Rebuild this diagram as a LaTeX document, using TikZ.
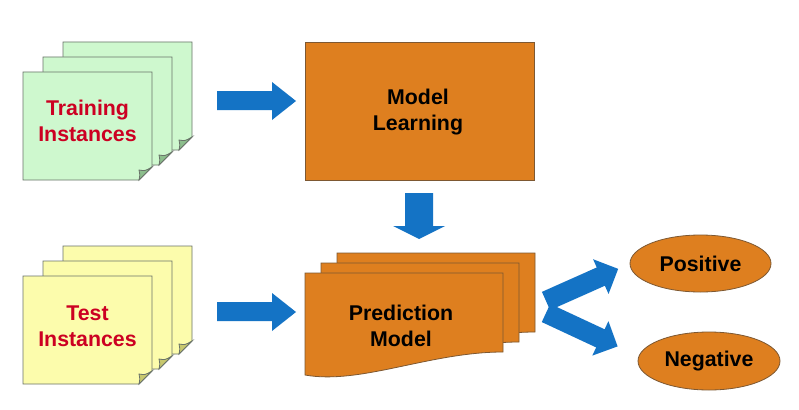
\documentclass[tikz,border=0pt]{standalone}
\usepackage{fontspec}
\setmainfont{Liberation Sans}
\usetikzlibrary{shapes.geometric}
\definecolor{orangefill}{RGB}{222,127,31}
\definecolor{orangeline}{RGB}{125,88,50}
\definecolor{greenpage}{RGB}{206,248,206}
\definecolor{greenfold}{RGB}{140,190,140}
\definecolor{yellowpage}{RGB}{252,252,172}
\definecolor{yellowfold}{RGB}{200,200,110}
\definecolor{pageline}{RGB}{105,115,105}
\definecolor{redtext}{RGB}{204,0,34}
\definecolor{arrowblue}{RGB}{20,115,197}
\tikzset{
  lbl/.style={font=\fontsize{16}{19.5}\selectfont\bfseries, align=center, inner sep=0pt},
  redlbl/.style={lbl, text=redtext},
  orangebox/.style={fill=orangefill, draw=orangeline, line width=0.6pt},
  sheetline/.style={draw=pageline, line width=0.6pt},
  blockarrow/.style={fill=arrowblue},
}
% sheet with folded corner: #1 x0, #2 y0, #3 fill, #4 fold colour
\newcommand\sheetpage[4]{%
  \path[sheetline, fill=#3] (#1,#2) -- ({#1+129},#2) -- ({#1+129},{#2+95}) -- ({#1+116},{#2+108}) -- (#1,{#2+108}) -- cycle;
  \path[sheetline, fill=#4] ({#1+129},{#2+95}) -- ({#1+116},{#2+108}) .. controls ({#1+117},{#2+103}) .. ({#1+116},{#2+98}) .. controls ({#1+122},{#2+99}) .. ({#1+129},{#2+95}) -- cycle;
}
% document sheet with wavy bottom: #1 x0, #2 y0
\newcommand\wavesheet[2]{%
  \path[orangebox] (#1,#2) -- ({#1+198},#2) -- ({#1+198},{#2+79}) .. controls ({#1+125},{#2+79}) and ({#1+55},{#2+112}) .. (#1,{#2+102}) -- cycle;
}
\begin{document}
\begin{tikzpicture}[x=0.75pt, y=-0.75pt]
\useasboundingbox[fill=white] (0,0) rectangle (799,410);

% training sheets
\sheetpage{63}{42}{greenpage}{greenfold}
\sheetpage{43}{57}{greenpage}{greenfold}
\sheetpage{23}{72}{greenpage}{greenfold}
\node[redlbl] (train) at (87.5,121) {Training\\Instances};

% test sheets
\sheetpage{63}{246}{yellowpage}{yellowfold}
\sheetpage{43}{261}{yellowpage}{yellowfold}
\sheetpage{23}{276}{yellowpage}{yellowfold}
\node[redlbl] (test) at (87.5,326) {Test\\Instances};

% model learning
\node[orangebox, minimum width=171.75pt, minimum height=103.5pt, inner sep=0pt] (learn) at (419.5,111) {};
\node[lbl] (learntext) at (418,112) {Model\\Learning};

% prediction model
\wavesheet{337}{253}
\wavesheet{321}{263}
\wavesheet{305}{273}
\node[lbl] (pred) at (401,326) {Prediction\\Model};

% outcomes
\node[ellipse, orangebox, minimum width=105.75pt, minimum height=42.75pt, inner sep=0pt] (pos) at (700.5,263.5) {};
\node[lbl] at (pos) {Positive};
\node[ellipse, orangebox, minimum width=106.5pt, minimum height=43.5pt, inner sep=0pt] (neg) at (709,361) {};
\node[lbl] at (neg) {Negative};

% block arrows
\path[blockarrow] (217,91) -- (272,91) -- (272,82) -- (296,101) -- (272,120) -- (272,110) -- (217,110) -- cycle;
\path[blockarrow] (217,302) -- (272,302) -- (272,293) -- (296,312) -- (272,331) -- (272,321) -- (217,321) -- cycle;
\path[blockarrow] (405,193) -- (433,193) -- (433,226) -- (445,226) -- (419,239) -- (393,226) -- (405,226) -- cycle;
\begin{scope}[shift={(546,301)}, rotate=24]
  \path[blockarrow] (0,-10) -- (60,-10) -- (60,-19) -- (79,0) -- (60,19) -- (60,10) -- (0,10) -- cycle;
\end{scope}
\begin{scope}[shift={(546,313)}, rotate=-25]
  \path[blockarrow] (0,-10) -- (60,-10) -- (60,-19) -- (79,0) -- (60,19) -- (60,10) -- (0,10) -- cycle;
\end{scope}
\end{tikzpicture}
\end{document}
